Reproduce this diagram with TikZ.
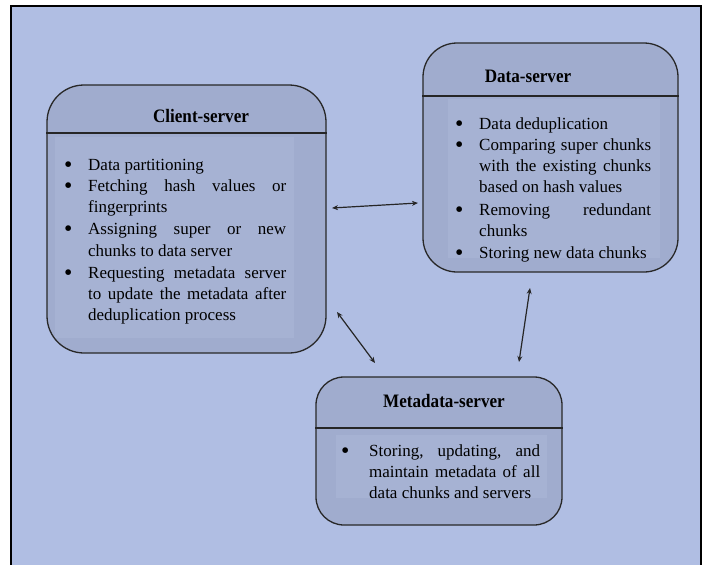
\documentclass[tikz,border=0pt]{standalone}
\usepackage{fontspec}
\setmainfont{Liberation Serif}
\newfontfamily\titlefont[FakeStretch=0.9]{Liberation Serif}
\usetikzlibrary{arrows.meta}
\definecolor{bgblue}{RGB}{176,190,227}
\definecolor{boxblue}{RGB}{160,172,206}
\definecolor{innerblue}{RGB}{166,178,211}
\definecolor{edgegray}{RGB}{40,40,40}
\newlength\bulletind
\newcommand\mybullet{\raisebox{-2pt}{\scalebox{1.4}{\textbullet}}}
\newcommand\bitem[2]{\noindent\makebox[\bulletind][l]{\mybullet}\parbox[t]{#1}{\hyphenpenalty=10000\exhyphenpenalty=10000\tolerance=9999\strut #2\strut}\par}
\newcommand\itemblock[2]{\parbox[t]{#1}{\lineskiplimit=-2pt #2}}
\tikzset{
  boxnode/.style={draw=edgegray, fill=boxblue, line width=1.3pt, inner sep=0pt},
  divider/.style={draw=black!85, line width=1.3pt},
  titletext/.style={anchor=base, inner sep=0pt, font=\titlefont\bfseries\fontsize{19}{22}\selectfont},
  bodytext/.style={anchor=north west, inner sep=0pt, font=\fontsize{17}{21.2}\selectfont},
  conn/.style={{Stealth[length=6pt,width=5pt]}-{Stealth[length=6pt,width=5pt]}, line width=1.2pt, draw=black!85}
}
\begin{document}
\begin{tikzpicture}[x=1pt,y=-1pt]
\useasboundingbox (0,0) rectangle (707,565);
\fill[white] (0,0) rectangle (707,565);
\fill[bgblue] (11,6) rectangle (701,566);
\draw[line width=2.2pt] (11,567) -- (11,6) -- (701,6) -- (701,567);

% Client-server
\node[boxnode, rounded corners=37pt, minimum width=279pt, minimum height=268pt] (client) at (186.5,219) {};
\fill[innerblue] (55,137) rectangle (294,338);
\draw[divider] (client.west |- 0,133) -- (client.east |- 0,133);
\node[titletext] (ctitle) at (201,122) {Client-server};
\setlength\bulletind{24pt}
\node[bodytext] (ctext) at (64,155.2) {\itemblock{222pt}{%
\bitem{198pt}{Data partitioning}
\bitem{198pt}{Fetching hash values or fingerprints}
\bitem{198pt}{Assigning super or new chunks to data server}
\bitem{198pt}{Requesting metadata server to update the metadata after deduplication process}}};

% Data-server
\node[boxnode, rounded corners=34pt, minimum width=255pt, minimum height=229pt] (data) at (550.5,157.5) {};
\fill[innerblue] (448,99) rectangle (660,258);
\draw[divider] (data.west |- 0,96) -- (data.east |- 0,96);
\node[titletext] (dtitle) at (528,82) {Data-server};
\setlength\bulletind{24pt}
\node[bodytext] (dtext) at (455,114.2) {\itemblock{196pt}{%
\bitem{172pt}{Data deduplication}
\bitem{172pt}{Comparing super chunks with the existing chunks based on hash values}
\bitem{172pt}{Removing redundant chunks}
\bitem{172pt}{Storing new data chunks}}};

% Metadata-server
\node[boxnode, rounded corners=28pt, minimum width=246pt, minimum height=148pt] (meta) at (439,451) {};
\fill[innerblue] (336,435) rectangle (547,498);
\draw[divider] (meta.west |- 0,428) -- (meta.east |- 0,428);
\node[titletext] (mtitle) at (444,407) {Metadata-server};
\setlength\bulletind{28pt}
\node[bodytext] (mtext) at (341,441.2) {\itemblock{200pt}{%
\bitem{171pt}{Storing, updating, and maintain metadata of all data chunks and servers}}};

% connectors
\coordinate (a1) at (332,208); \coordinate (a2) at (418,203);
\coordinate (b1) at (337,312); \coordinate (b2) at (375,363);
\coordinate (c1) at (530,288); \coordinate (c2) at (519,362);
\draw[conn] (a1) -- (a2);
\draw[conn] (b1) -- (b2);
\draw[conn] (c1) -- (c2);
\end{tikzpicture}
\end{document}
